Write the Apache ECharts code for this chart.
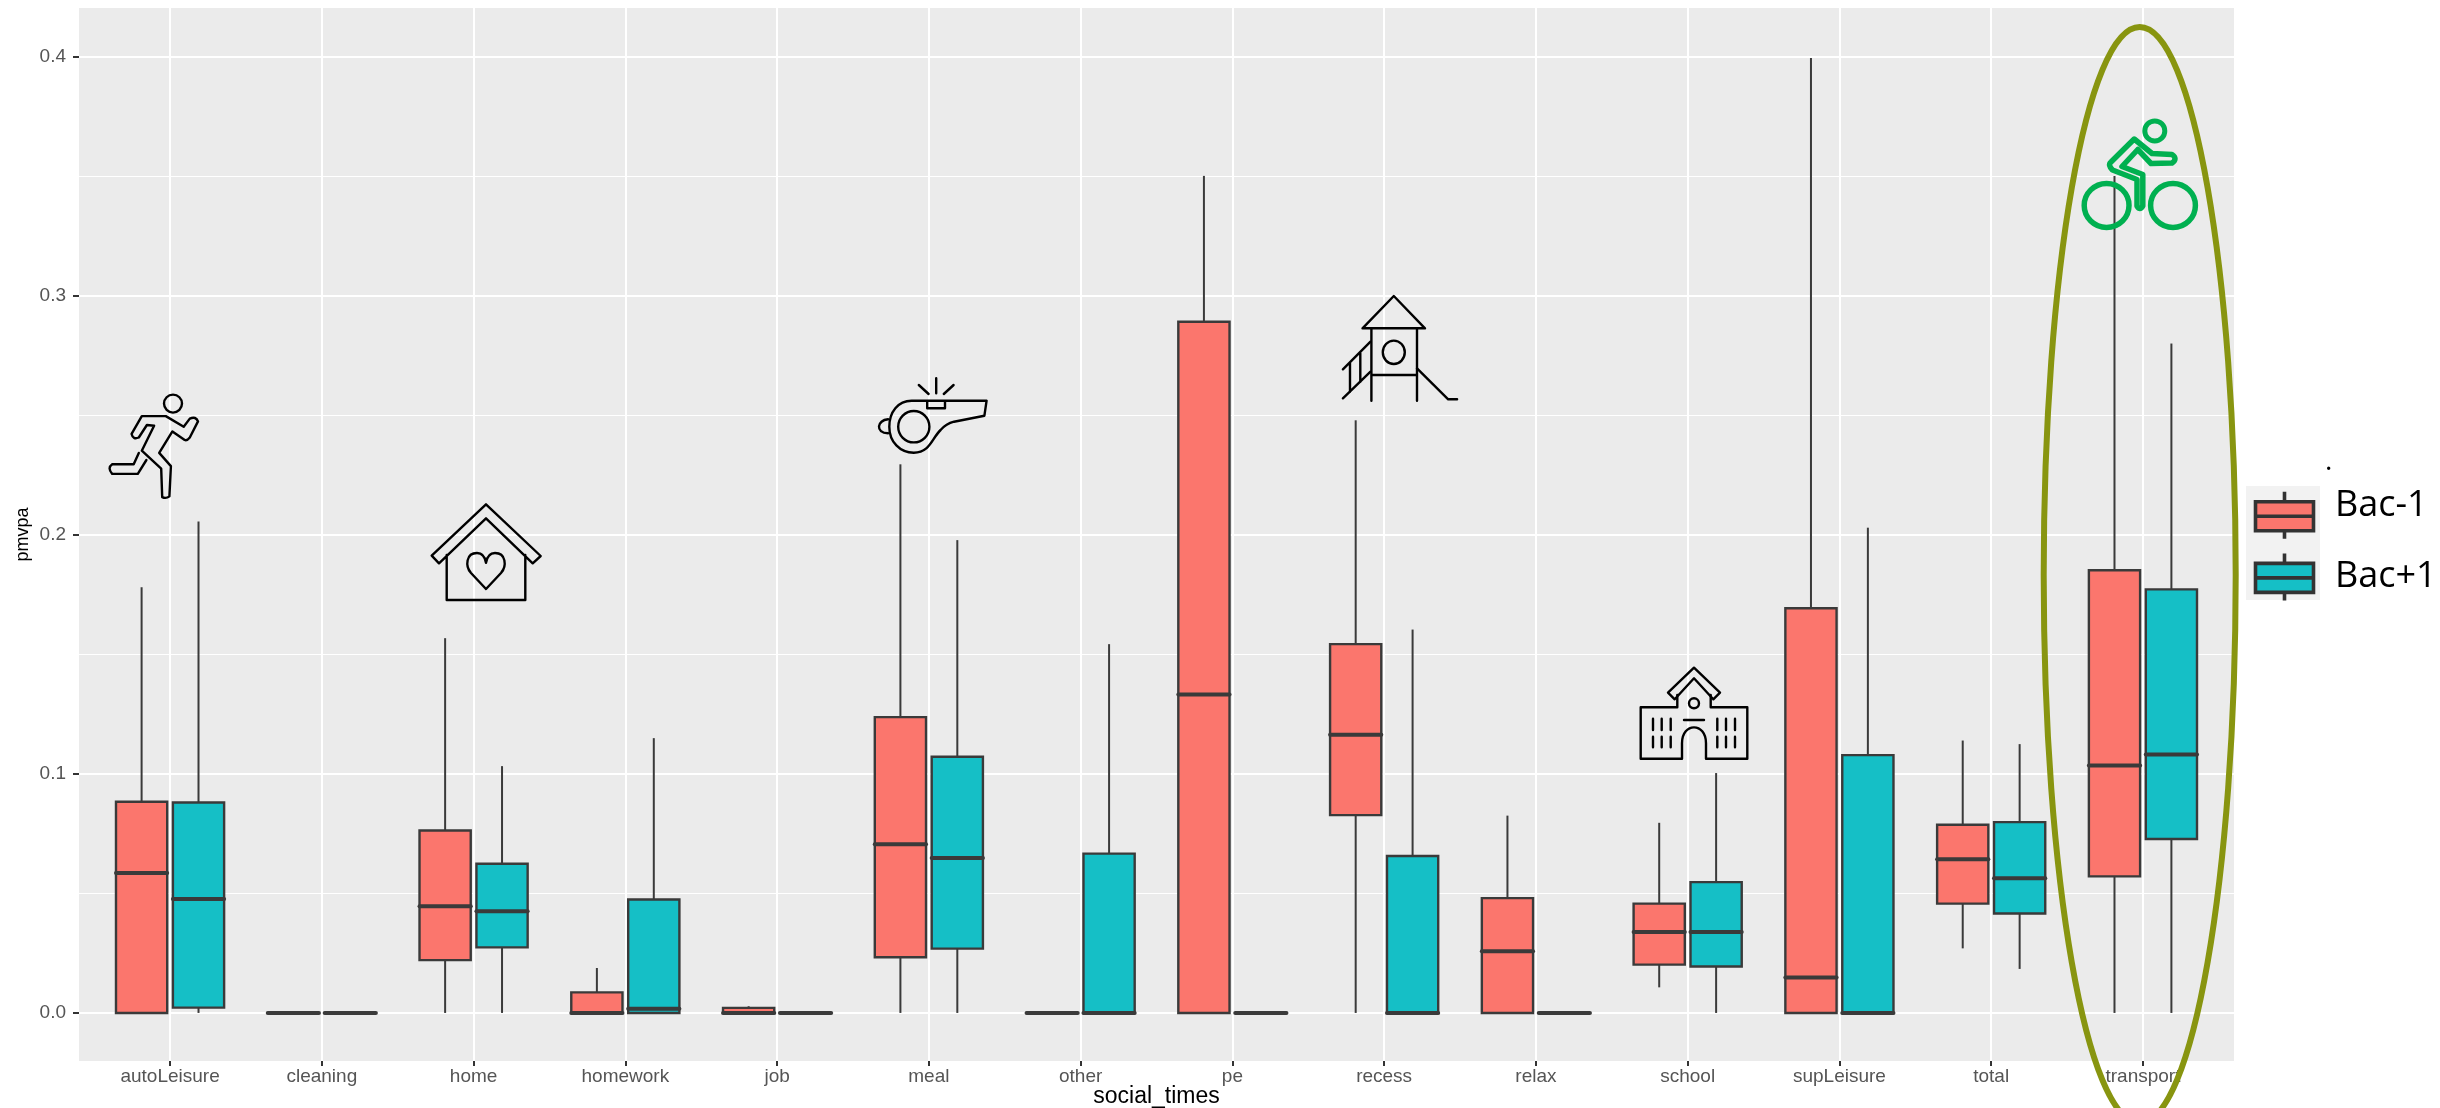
<!DOCTYPE html>
<html>
<head>
<meta charset="utf-8">
<style>html,body{margin:0;padding:0;background:#fff}#c{width:2440px;height:1108px}</style>
<script src="https://cdn.jsdelivr.net/npm/echarts@6/dist/echarts.min.js"></script>
</head>
<body>
<div id="c"></div>
<script>
const categories = ['autoLeisure','cleaning','home','homework','job','meal','other','pe','recess','relax','school','supLeisure','total','transport'];
const legendNames = ['Bac-1','Bac+1'];
const yTicks = [0, 0.1, 0.2, 0.3, 0.4];
const yMinorTicks = [0.05, 0.15, 0.25, 0.35];
// each row: lower whisker, Q1, median, Q3, upper whisker
const bacMinus1 = [
  [0,0,0.0585,0.0883,0.178],
  [0,0,0,0,0],
  [0,0.0221,0.0446,0.0763,0.1567],
  [0,0,0,0.0086,0.0188],
  [0,0,0,0.0021,0.0028],
  [0,0.0233,0.0705,0.1237,0.2294],
  [0,0,0,0,0],
  [0,0,0.1331,0.289,0.35],
  [0,0.0827,0.1163,0.1542,0.2478],
  [0,0,0.0258,0.048,0.0825],
  [0.0107,0.0202,0.0338,0.0457,0.0795],
  [0,0,0.0148,0.1692,0.3993],
  [0.027,0.0457,0.0643,0.0787,0.1139],
  [0,0.0571,0.1035,0.1851,0.35]
];
const bacPlus1 = [
  [0,0.0022,0.0476,0.088,0.2055],
  [0,0,0,0,0],
  [0,0.0274,0.0425,0.0624,0.1032],
  [0,0,0.0017,0.0474,0.1149],
  [0,0,0,0,0],
  [0,0.0269,0.0648,0.1071,0.1977],
  [0,0,0,0.0666,0.1542],
  [0,0,0,0,0],
  [0,0,0,0.0656,0.1603],
  [0,0,0,0,0],
  [0,0.0194,0.0338,0.0547,0.1003],
  [0,0,0,0.1078,0.2029],
  [0.0184,0.0416,0.0563,0.0798,0.1124],
  [0,0.0727,0.1081,0.1771,0.2799]
];

const BOX_W = 0.3375, DODGE = 0.1875, INK = '#3a3a3a';
function boxRender(offset, fill) {
  return function (params, api) {
    const x = api.value(0) + offset;
    const [lo, q1, med, q3, hi] = [1,2,3,4,5].map(d => api.value(d));
    const half = api.size([BOX_W, 0])[0] / 2;
    const p = v => api.coord([x, v]);
    const kids = [];
    const seg = (a, b, w) => ({type:'line', shape:{x1:a[0],y1:a[1],x2:b[0],y2:b[1]},
      style:{stroke:INK, lineWidth:w, lineCap:'butt', fill:null}});
    if (hi > q3) kids.push(seg(p(q3), p(hi), 2));
    if (lo < q1) kids.push(seg(p(q1), p(lo), 2));
    const t = p(q3), b = p(q1), m = p(med);
    kids.push({type:'rect', shape:{x:t[0]-half, y:t[1], width:half*2, height:b[1]-t[1]},
      style:{fill:fill, stroke:INK, lineWidth:2.4}});
    kids.push({type:'line', shape:{x1:m[0]-half,y1:m[1],x2:m[0]+half,y2:m[1]},
      style:{stroke:INK, lineWidth:4, lineCap:'round', fill:null}});
    return {type:'group', children:kids};
  };
}
function boxSeries(name, rows, offset, fill) {
  return {
    name, type:'custom', z:3,
    data: rows.map((r,i) => [i, ...r]),
    encode:{x:0, y:[1,2,3,4,5]},
    itemStyle:{color:fill},
    renderItem: boxRender(offset, fill),
    silent:true, animation:false
  };
}

let iconCount = 0;
function icon(pathData, stroke, lw) {
  const name = 'iconPath' + (iconCount++);
  echarts.graphic.registerShape(name, echarts.graphic.extendPath(pathData, {}));
  return {type:name, z:100,
    style:{fill:null, stroke:stroke||'#000', lineWidth:lw||2.4, lineJoin:'round', lineCap:'round'}};
}
const ring = (cx,cy,rx,ry,stroke,lw,z) => ({type:'ellipse', z:z||100, shape:{cx,cy,rx,ry},
  style:{fill:null, stroke:stroke||'#000', lineWidth:lw||2.4}});
const legendText = (text, y) => ({type:'text', z:5, x:2335, y,
  style:{text, font:'36px "Open Sans"', fill:'#000', textVerticalAlign:'middle', verticalAlign:'middle'}});

const graphics = [
  // legend key background
  {type:'rect', z:1, shape:{x:2246,y:486,width:74,height:114}, style:{fill:'#F2F2F2'}},
  {type:'text', z:5, x:2325, y:448, style:{text:'.', font:'28px "Open Sans"', fill:'#000'}},
  legendText(legendNames[0], 506),
  legendText(legendNames[1], 577),
  // runner
  ring(173,403.6,9,9),
  icon('M141.8 416.1L165.8 416.1L183.7 426.8L189.8 418.6Q196 416 198 421.4L189.8 437.5Q187 441 184.7 440L172.4 431.4L159.2 452.9L170.9 466.1L169.4 496.4Q166 499 162.2 497.1L161.2 468.6L141.8 450.7L154.1 425.7L146.9 425L138.8 437.5Q133 440 131.6 433.9Z'),
  icon('M138.8 452.9L133.7 464.3L112.2 464.3Q107 468 112.2 473.9L137.8 473.9L146.4 460'),
  // house
  icon('M486 504.3L540.7 556L532.7 563.3L486 518.3L439 563.3L431.7 555.7ZM446.7 555L446.7 600L525.3 600L525.3 555'),
  icon('M486 589L471 573C465 566 466 553 477 553C482 553 485 557 486 562.7C487 557 490 553 495 553C506 553 507 566 501 573Z'),
  // whistle
  icon('M986.6 400.7L911.6 400.7C898 400.7 889.3 412 889.3 426.7C889.3 442 900 452.7 913.8 452.7C930 452.7 932 438 940.6 430C945 425 949 423 954 421.7L984.4 415.7Z'),
  ring(913.8,426.7,15.6,15.7),
  icon('M888 419.3C877 420 875 433 888 433.3M927.2 401.7L927.2 408.3L945 408.3L945 401.7M936.2 378.3L936.2 393.3M918.8 385L928.6 394M953.6 385L943.8 394'),
  // playground
  icon('M1393.8 296L1425 328.3L1362.5 328.3ZM1371.4 329.3L1371.4 400.7M1417 329.3L1417 400.7M1371.4 375L1417 375'),
  ring(1393.8,352.3,11,11.7),
  icon('M1370.5 341.7L1342.9 369.3M1370.5 371.7L1342.9 398.3M1350 363.3L1350 391.7M1360.3 353.3L1360.3 381.7M1417 368.3L1448.2 399.3L1457.1 399.3'),
  // school
  icon('M1677.3 695L1677.3 707.3L1640.7 707.3L1640.7 758.7L1682 758.7L1682 743.3C1682 722 1706 722 1706 743.3L1706 758.7L1747.3 758.7L1747.3 707.3L1710.7 707.3L1710.7 695'),
  icon('M1694 667.7L1720 692.7L1713.3 699.3L1694 678.3L1674.7 699.3L1668 692.7Z'),
  ring(1694,703.3,5,5),
  icon('M1684 720L1704 720M1653 718.7L1653 730M1661.7 718.7L1661.7 730M1670.7 718.7L1670.7 730M1717.3 718.7L1717.3 730M1726 718.7L1726 730M1735 718.7L1735 730M1653 736.7L1653 747.3M1661.7 736.7L1661.7 747.3M1670.7 736.7L1670.7 747.3M1717.3 736.7L1717.3 747.3M1726 736.7L1726 747.3M1735 736.7L1735 747.3'),
  // bicycle
  ring(2154.8,130.9,10,10,'#00B050',5),
  ring(2106.6,205.4,22.4,22,'#00B050',5.5),
  ring(2173,205.4,22.4,22,'#00B050',5.5),
  icon('M2134.2 139L2152 153.5L2172 154.5Q2178 158.5 2172 163L2151 163.5L2137.8 149.5L2122 166.5L2142.8 174.5L2142.8 206Q2140 211 2137 206L2137 179.5L2112.5 170Q2107.5 165 2111 162Z','#00B050',5.5),
  // highlight around transport
  ring(2139.7,575,96,548,'#889510',6,101)
];

const chart = echarts.init(document.getElementById('c'), null, {renderer:'canvas'});
const labelFont = '"Liberation Sans", Arial, sans-serif';
chart.setOption({
  animation:false,
  backgroundColor:'#fff',
  grid:{left:79, right:206, top:8, bottom:47, show:true, backgroundColor:'#EBEBEB', borderWidth:0, containLabel:false, outerBoundsMode:'none'},
  xAxis:{
    type:'value', min:-0.6, max:13.6,
    name:'social_times', nameLocation:'middle', nameGap:24, nameMoveOverlap:false,
    nameTextStyle:{fontFamily:labelFont, fontSize:23, color:'#000'},
    axisLine:{show:false, onZero:false},
    axisTick:{show:true, length:5, lineStyle:{color:'#333', width:2}, customValues:categories.map((c,i)=>i)},
    axisLabel:{customValues:categories.map((c,i)=>i), formatter:v=>categories[Math.round(v)], fontFamily:labelFont, fontSize:19, color:'#555', margin:6},
    splitLine:{show:true, lineStyle:{color:'#fff', width:2}}
  },
  yAxis:[{
    type:'value', min:-0.0201, max:0.4202,
    name:'pmvpa', nameLocation:'middle', nameGap:47, nameMoveOverlap:false,
    nameTextStyle:{fontFamily:labelFont, fontSize:18, color:'#000'},
    axisLine:{show:false, onZero:false},
    axisTick:{show:true, length:6, lineStyle:{color:'#333', width:2}, customValues:yTicks},
    axisLabel:{customValues:yTicks, formatter:v=>v.toFixed(1), fontFamily:labelFont, fontSize:19, color:'#555', margin:13},
    splitLine:{show:true, lineStyle:{color:'#fff', width:2}}
  },{
    type:'value', min:-0.0201, max:0.4202, position:'left',
    axisLine:{show:false, onZero:false},
    axisTick:{show:false, customValues:yMinorTicks},
    axisLabel:{show:false},
    splitLine:{show:true, lineStyle:{color:'#fff', width:1.2}}
  }],
  legend:{
    orient:'vertical', left:2253.7, top:490, padding:0, itemGap:11, itemWidth:58, itemHeight:47,
    selectedMode:false, align:'left',
    icon:'path://M0 10H58V39H0ZM0 24.5H58M29 0V10M29 39V47',
    itemStyle:{borderColor:'#333', borderWidth:3.6},
    formatter:()=>'',
    data:legendNames
  },
  series:[
    boxSeries(legendNames[0], bacMinus1, -DODGE, '#FB766D'),
    boxSeries(legendNames[1], bacPlus1, DODGE, '#15BFC6')
  ],
  graphic:{elements:graphics}
});
</script>
</body>
</html>
